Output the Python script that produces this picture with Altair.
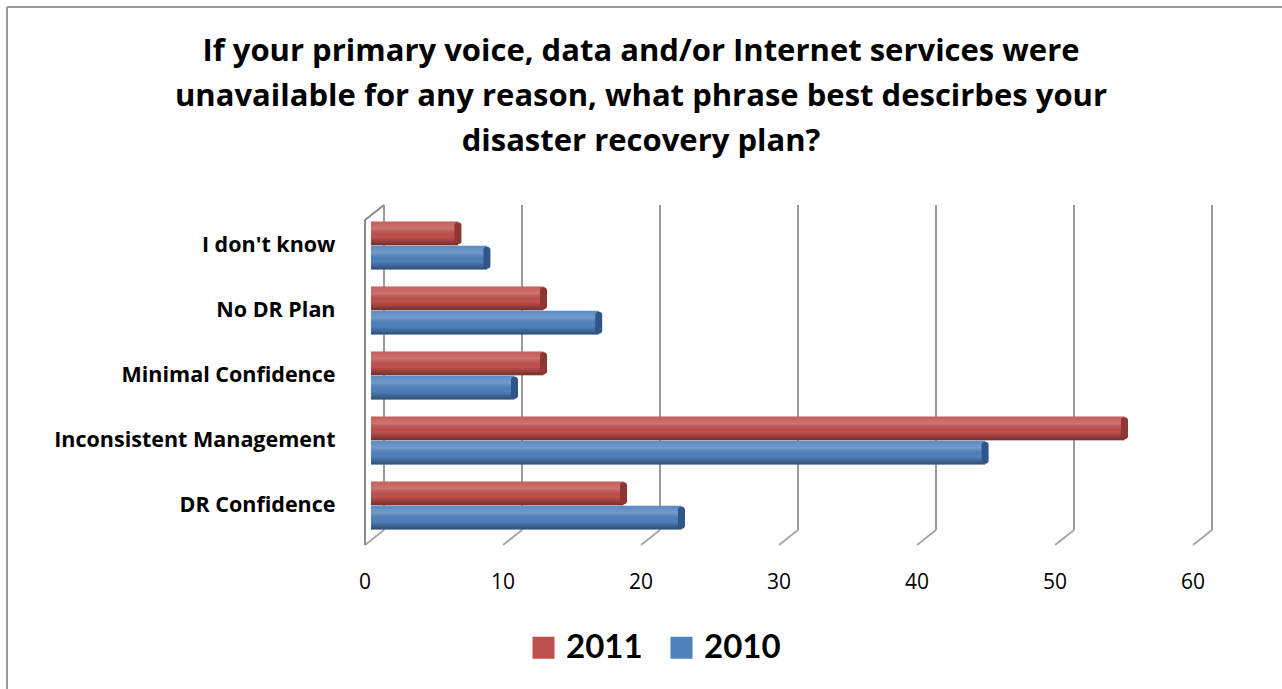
import altair as alt
import pandas as pd

title_lines = ["If your primary voice, data and/or Internet services were",
               "unavailable for any reason, what phrase best descirbes your",
               "disaster recovery plan?"]
categories = ["I don't know", "No DR Plan", "Minimal Confidence",
              "Inconsistent Management", "DR Confidence"]
series = ["2011", "2010"]
values_2011 = [6.3, 12.5, 12.5, 54.6, 18.3]
values_2010 = [8.4, 16.5, 10.4, 44.5, 22.5]
x_ticks = [0, 10, 20, 30, 40, 50, 60]
colors = ["#c0504d", "#4f81bd"]
cap_colors = ["#8e3634", "#2f568a"]

rows = []
for c, a, b in zip(categories, values_2011, values_2010):
    rows.append({"cat": c, "series": "2011", "value": a})
    rows.append({"cat": c, "series": "2010", "value": b})
df = pd.DataFrame(rows)
grid_df = pd.DataFrame({"t": x_ticks})
one = pd.DataFrame({"t": [0]})

FONT = "Open Sans"
LFONT = "Lato"
W, H = 828, 325

xscale = alt.Scale(domain=[0, 60], nice=False, zero=True)
yscale = alt.Scale(domain=categories, paddingInner=0.26, paddingOuter=0.13)
yoff_scale = alt.Scale(domain=series, paddingInner=0.03)

def X(field):
    return alt.X(field, scale=xscale, axis=None)

# back-plane gridlines
grid_back = alt.Chart(grid_df).mark_rule(color="#9a9a9a", strokeWidth=2, xOffset=13).encode(
    x=X("t:Q"), y=alt.value(-8), y2=alt.value(317))
# slanted floor segments
grid_floor = alt.Chart(grid_df).mark_rule(color="#a8a8a8", strokeWidth=2, xOffset=13, x2Offset=-6).encode(
    x=X("t:Q"), x2="t:Q", y=alt.value(317), y2=alt.value(332))
# x tick labels
x_labels = alt.Chart(grid_df).mark_text(font=FONT, fontSize=21, color="#000",
                                        baseline="middle", align="center", dx=-6).encode(
    x=X("t:Q"), y=alt.value(H + 45), text=alt.Text("t:Q"))
# left wall
wall = alt.Chart(one).mark_rule(color="#8a8a8a", strokeWidth=2, xOffset=-6).encode(
    x=X("t:Q"), y=alt.value(7), y2=alt.value(332))
wall_top = alt.Chart(one).mark_rule(color="#8a8a8a", strokeWidth=2, xOffset=-6, x2Offset=13).encode(
    x=X("t:Q"), x2="t:Q", y=alt.value(7), y2=alt.value(-8))

bars = alt.Chart(df).mark_bar().encode(
    x=X("value:Q"),
    y=alt.Y("cat:N", scale=yscale, sort=categories,
            axis=alt.Axis(title=None, domain=False, ticks=False, grid=False, labelFont=FONT,
                          labelFontSize=21.5, labelFontWeight="bold", labelColor="#000",
                          labelPadding=36, labelLimit=500)),
    yOffset=alt.YOffset("series:N", scale=yoff_scale, sort=series),
    color=alt.Color("series:N", sort=series,
                    scale=alt.Scale(domain=series, range=colors),
                    legend=alt.Legend(title=None, orient="none", legendX=156, legendY=418,
                                      direction="horizontal", labelFont=LFONT,
                                      labelFontSize=33, labelFontWeight="bold",
                                      labelColor="#000", symbolType="square",
                                      symbolSize=484, symbolStrokeWidth=0,
                                      symbolOpacity=1, columnPadding=22, labelOffset=6)),
)

shade = alt.Chart(df).mark_bar(
    fill=alt.Gradient(gradient="linear", x1=0, x2=0, y1=0, y2=1, stops=[
        alt.GradientStop(offset=0, color="rgba(255,255,255,0.08)"),
        alt.GradientStop(offset=0.3, color="rgba(255,255,255,0.2)"),
        alt.GradientStop(offset=0.65, color="rgba(0,0,0,0.0)"),
        alt.GradientStop(offset=1, color="rgba(0,0,0,0.4)"),
    ])
).encode(
    x=X("value:Q"),
    y=alt.Y("cat:N", scale=yscale, sort=categories),
    yOffset=alt.YOffset("series:N", scale=yoff_scale, sort=series),
)

caps = alt.Chart(df).mark_tick(thickness=7, size=22, opacity=1, cornerRadius=3).encode(
    x=X("value:Q"),
    y=alt.Y("cat:N", scale=yscale, sort=categories),
    yOffset=alt.YOffset("series:N", scale=yoff_scale, sort=series),
    color=alt.Color("series:N", scale=alt.Scale(domain=series, range=cap_colors), legend=None),
)

title_layers = []
for i, line in enumerate(title_lines):
    title_layers.append(
        alt.Chart(one).mark_text(font=FONT, fontSize=31, fontWeight="bold", color="#000",
                                 align="center", baseline="middle", dy=45 * i).encode(
            x=alt.value(270), y=alt.value(-161), text=alt.value(line)))

frame_top = alt.Chart(one).mark_rule(color="#999999", strokeWidth=2).encode(
    x=alt.value(-364), x2=alt.value(920), y=alt.value(-206))
frame_left = alt.Chart(one).mark_rule(color="#999999", strokeWidth=2).encode(
    x=alt.value(-364), y=alt.value(-206), y2=alt.value(480))

chart = alt.layer(frame_top, frame_left, *title_layers, grid_back, grid_floor, x_labels, wall, wall_top,
                  bars, shade, caps).resolve_scale(
    color="independent"
).properties(
    width=W, height=H,
    autosize=alt.AutoSizeParams(type="none"),
    padding={"left": 371, "top": 213, "right": 83, "bottom": 151},
).configure(background="white").configure_view(strokeWidth=0, stroke="transparent")

chart.save("out.html", embed_options={"renderer": "svg", "actions": False})
